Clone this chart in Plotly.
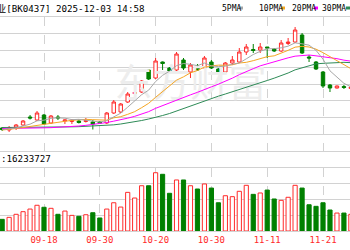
import plotly.graph_objects as go

# ---------------- data ----------------
dates = ["09-10", "09-11", "09-12", "09-15", "09-16", "09-17", "09-18", "09-19", "09-22", "09-23",
         "09-24", "09-25", "09-26", "09-29", "09-30", "10-09", "10-10", "10-13", "10-14", "10-15",
         "10-16", "10-17", "10-20", "10-21", "10-22", "10-23", "10-24", "10-27", "10-28", "10-29",
         "10-30", "10-31", "11-03", "11-04", "11-05", "11-06", "11-07", "11-10", "11-11", "11-12",
         "11-13", "11-14", "11-17", "11-18", "11-19", "11-20", "11-21", "11-24", "11-25", "11-26",
         "11-27"]

open_ = [2938, 2926, 2938, 2956, 3004, 2986, 3016, 2968, 3004, 2980,
         2977, 2980, 2977, 2974, 2974, 2968, 3028, 3034, 3094, 3145,
         3154, 3286, 3238, 3334, 3298, 3286, 3346, 3274, 3310, 3298,
         3334, 3292, 3274, 3328, 3334, 3394, 3409, 3406, 3424, 3412,
         3400, 3445, 3454, 3496, 3364, 3334, 3274, 3196, 3178, 3187,
         3175]
high = [2944, 2950, 2962, 2986, 3016, 3040, 3022, 3016, 3016, 2989,
        2992, 2989, 2998, 2986, 2980, 3034, 3106, 3088, 3154, 3166,
        3226, 3292, 3358, 3337, 3304, 3394, 3358, 3328, 3322, 3370,
        3346, 3298, 3334, 3370, 3418, 3442, 3442, 3448, 3424, 3418,
        3466, 3478, 3544, 3508, 3376, 3340, 3280, 3202, 3193, 3196,
        3184]
low = [2920, 2914, 2926, 2950, 2989, 2980, 2956, 2962, 2986, 2962,
       2962, 2965, 2971, 2929, 2962, 2962, 3022, 3028, 3088, 3130,
       3148, 3226, 3232, 3286, 3274, 3274, 3286, 3238, 3280, 3292,
       3292, 3268, 3262, 3316, 3328, 3376, 3388, 3388, 3358, 3394,
       3394, 3436, 3448, 3382, 3334, 3286, 3178, 3154, 3175, 3172,
       3172]
close = [2929, 2941, 2956, 2980, 2998, 3028, 2962, 3010, 2998, 2986,
         2986, 2971, 2983, 2962, 2968, 3028, 3094, 3082, 3142, 3151,
         3220, 3232, 3340, 3325, 3280, 3382, 3298, 3316, 3286, 3358,
         3298, 3274, 3328, 3346, 3394, 3424, 3403, 3424, 3418, 3400,
         3448, 3454, 3526, 3388, 3358, 3292, 3190, 3178, 3190, 3181,
         3184]

ma5 = [2929, 2932, 2938, 2950, 2961, 2981, 2985, 2996, 2999, 2997,
       2988, 2990, 2985, 2978, 2974, 2982, 3007, 3027, 3063, 3099,
       3138, 3165, 3217, 3254, 3279, 3312, 3325, 3320, 3312, 3328,
       3311, 3306, 3309, 3321, 3328, 3353, 3379, 3398, 3413, 3414,
       3419, 3429, 3449, 3443, 3435, 3404, 3351, 3281, 3242, 3206,
       3185]
ma10 = [2926, 2929, 2935, 2941, 2948, 2956, 2960, 2966, 2972, 2979,
        2984, 2987, 2990, 2988, 2985, 2985, 2999, 3006, 3020, 3036,
        3060, 3086, 3122, 3158, 3189, 3225, 3245, 3269, 3283, 3303,
        3311, 3315, 3314, 3317, 3328, 3332, 3342, 3353, 3366, 3371,
        3386, 3404, 3423, 3428, 3424, 3411, 3390, 3365, 3342, 3320,
        3294]
ma20 = [2935, 2935, 2936, 2936, 2937, 2938, 2939, 2940, 2942, 2943,
        2946, 2950, 2954, 2959, 2964, 2971, 2979, 2987, 2997, 3008,
        3022, 3036, 3056, 3073, 3087, 3105, 3122, 3137, 3152, 3170,
        3185, 3201, 3218, 3237, 3258, 3278, 3294, 3311, 3324, 3337,
        3348, 3359, 3369, 3372, 3376, 3371, 3366, 3359, 3354, 3345,
        3339]
ma30 = [2941, 2941, 2941, 2941, 2941, 2942, 2943, 2944, 2944, 2944,
        2945, 2946, 2948, 2949, 2950, 2953, 2957, 2962, 2968, 2975,
        2983, 2992, 3001, 3013, 3025, 3040, 3055, 3070, 3085, 3103,
        3118, 3129, 3142, 3155, 3167, 3180, 3195, 3209, 3223, 3237,
        3252, 3268, 3287, 3300, 3314, 3323, 3326, 3329, 3330, 3332,
        3330]

# volume in millions; 1 = red (up) bar, 0 = green (down) bar
volume = [11.1, 13.0, 15.9, 18.4, 20.9, 24.5, 22.6, 21.6, 15.9, 19.0,
          14.9, 14.0, 15.5, 17.4, 12.4, 20.9, 26.9, 22.8, 36.8, 31.4,
          43.1, 43.1, 55.5, 54.0, 35.9, 48.6, 48.6, 43.1, 40.0, 44.8,
          40.9, 26.9, 33.6, 32.7, 37.8, 43.5, 34.9, 36.2, 39.0, 30.5,
          29.2, 32.1, 43.5, 40.9, 25.0, 23.5, 26.9, 20.0, 17.1, 17.1,
          15.9]
vol_up = [0, 1, 1, 1, 1, 1, 0, 1, 0, 1,
          1, 0, 1, 0, 0, 1, 1, 1, 1, 1,
          1, 0, 1, 0, 0, 1, 0, 1, 0, 1,
          0, 0, 1, 1, 1, 1, 0, 1, 0, 0,
          1, 1, 1, 0, 0, 0, 0, 0, 1, 0,
          1]

label_idx = [6, 14, 22, 30, 38, 46]
title_text = "业[BK0437] 2025-12-03 14:58"
legend_names = ["5PMA", "10PMA", "20PMA", "30PMA"]
last_volume_text = ":16233727"

# ---------------- styling ----------------
RED = "#ff2a2a"
GREEN = "#008000"
GRID = "#d2d2d2"
MONO = "DejaVu Sans Mono, Noto Sans CJK SC"
ma_colors = ["#a8a8a8", "#f5a623", "#ff00ff", "#2e8b57"]

x = list(range(len(dates)))
xr = [-0.308, 49.87]
price_range = [2800, 3604]
price_grid = [2800 + 100.5 * k for k in range(9)]

fig = go.Figure()

# watermark
fig.add_trace(go.Scatter(x=[27.0], y=[3190], mode="text", text=["东方财富"],
                         textfont=dict(size=38, color="#ededed", family="Noto Sans CJK SC"),
                         hoverinfo="skip", showlegend=False, xaxis="x", yaxis="y"))

for vals, col in zip([ma30, ma20, ma10, ma5], ma_colors[::-1]):
    fig.add_trace(go.Scatter(x=x, y=vals, mode="lines", line=dict(color=col, width=1),
                             hoverinfo="skip", showlegend=False, xaxis="x", yaxis="y"))

fig.add_trace(go.Candlestick(
    x=x, open=open_, high=high, low=low, close=close,
    increasing=dict(line=dict(color=RED, width=1), fillcolor="white"),
    decreasing=dict(line=dict(color=GREEN, width=1), fillcolor=GREEN),
    whiskerwidth=0, showlegend=False, xaxis="x", yaxis="y"))

fig.add_trace(go.Bar(
    x=x, y=volume, width=0.6,
    marker=dict(color=["white" if u else GREEN for u in vol_up],
                line=dict(color=[RED if u else GREEN for u in vol_up], width=1)),
    showlegend=False, xaxis="x2", yaxis="y2"))

common_x = dict(range=xr, tickmode="array", tickvals=label_idx, showgrid=True,
                gridcolor=GRID, griddash="dash", gridwidth=1, zeroline=False,
                showline=True, mirror=True, linecolor=GRID, linewidth=1, ticks="")

fig.update_layout(
    width=350, height=250, margin=dict(l=0, r=0, t=0, b=0),
    paper_bgcolor="white", plot_bgcolor="white", showlegend=False,
    xaxis=dict(**common_x, anchor="y", showticklabels=False,
               rangeslider=dict(visible=False)),
    yaxis=dict(domain=[0.396, 0.932], range=price_range, tickmode="array",
               tickvals=price_grid, showticklabels=False, gridcolor=GRID,
               zeroline=False, showline=False),
    xaxis2=dict(**common_x, anchor="y2", ticktext=[dates[i] for i in label_idx],
                showticklabels=True, tickfont=dict(family=MONO, size=9, color=RED)),
    yaxis2=dict(domain=[0.076, 0.328], range=[0, 60], tickmode="array",
                tickvals=[0, 15, 30, 45, 60], showticklabels=False,
                gridcolor=GRID, zeroline=False, showline=False),
)

ann = []
ann.append(dict(text=title_text, xref="paper", yref="paper", x=-5.5 / 350, y=1 - 8 / 250,
                xanchor="left", yanchor="middle", showarrow=False,
                font=dict(family=MONO, size=9.2, color="black")))
ann.append(dict(text=last_volume_text, xref="paper", yref="paper", x=-1 / 350, y=1 - 158 / 250,
                xanchor="left", yanchor="middle", showarrow=False,
                font=dict(family=MONO, size=9.2, color="black")))
ann.append(dict(text="09-08", xref="x2", yref="paper", x=-2, y=1 - 240 / 250,
                xanchor="center", yanchor="middle", showarrow=False,
                font=dict(family=MONO, size=9, color=RED)))
leg_x = [220, 257, 290, 320]
for name, col, lx in zip(legend_names, ma_colors, leg_x):
    ann.append(dict(text=name, xref="paper", yref="paper", x=lx / 350, y=1 - 8 / 250,
                    xanchor="left", yanchor="middle", showarrow=False,
                    font=dict(family=MONO, size=8, color="black")))
fig.update_layout(annotations=ann)

shapes = []
mark_x = [239, 281, 314, 346]
for col, mx in zip(ma_colors, mark_x):
    shapes.append(dict(type="rect", xref="paper", yref="paper",
                       x0=mx / 350, x1=(mx + 4) / 350, y0=1 - 9.5 / 250, y1=1 - 6.5 / 250,
                       fillcolor=col, line=dict(width=0)))
fig.update_layout(shapes=shapes)

fig.write_html("out.html")
